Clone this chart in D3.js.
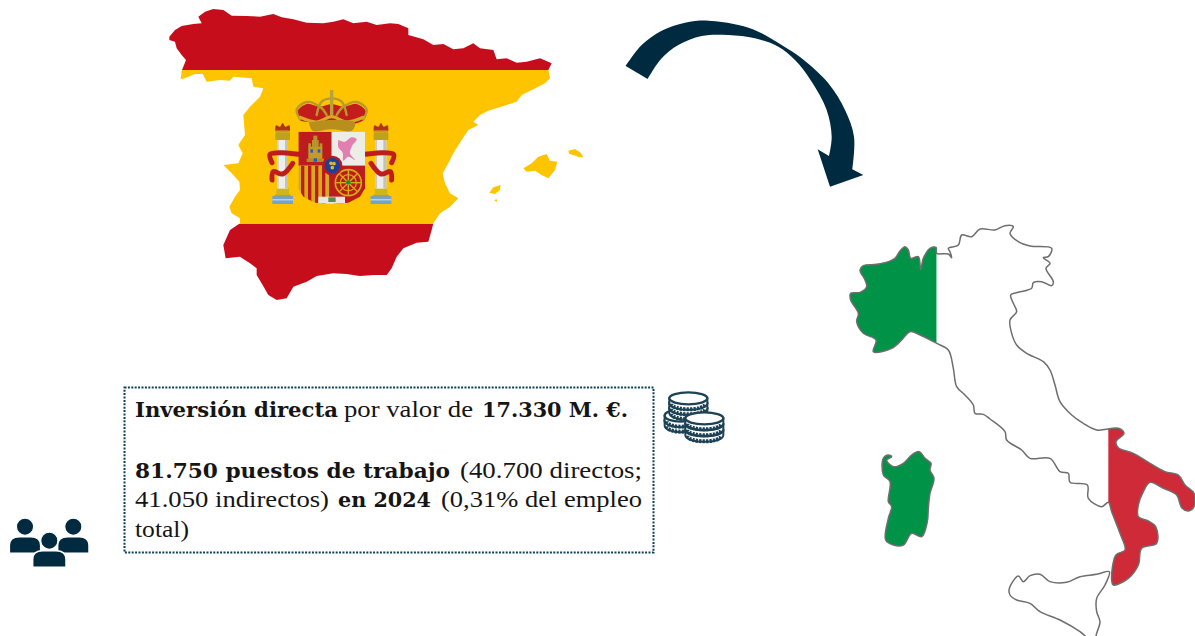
<!DOCTYPE html>
<html>
<head>
<meta charset="utf-8">
<script src="https://cdn.jsdelivr.net/npm/d3@7"></script>
<style>
html, body { margin: 0; padding: 0; background: #fff; overflow: hidden; }
svg { display: block; }
</style>
</head>
<body>
<svg id="chart" width="1195" height="636"></svg>
<script>
// outlines, in the units of each local frame
var spainOutline = [[28,110],[45,90],[65,78],[100,72],[125,70],[115,50],[135,35],[160,27],[190,30],[215,47],[260,48],[300,50],[340,42],[365,52],[400,58],[440,68],[490,70],[520,65],[550,58],[580,70],[620,65],[650,75],[690,70],[715,72],[745,85],[745,105],[790,118],[820,135],[850,132],[880,148],[910,145],[940,130],[960,145],[1000,150],[1010,178],[1040,175],[1070,188],[1100,185],[1140,175],[1175,190],[1165,210],[1170,235],[1155,250],[1120,268],[1085,285],[1070,305],[1030,318],[985,332],[960,345],[940,365],[955,375],[925,390],[905,420],[880,460],[865,490],[848,520],[855,550],[870,580],[895,595],[870,620],[840,640],[820,670],[815,690],[805,725],[770,728],[730,745],[710,770],[695,805],[680,825],[640,825],[600,828],[560,822],[520,820],[470,828],[440,845],[400,860],[380,895],[350,900],[325,885],[308,855],[290,825],[290,805],[270,790],[240,770],[197,775],[190,735],[210,690],[240,670],[240,655],[215,640],[208,620],[225,590],[240,570],[238,545],[215,520],[190,495],[235,490],[248,460],[235,435],[255,405],[250,345],[270,320],[300,290],[310,265],[280,260],[275,235],[220,230],[210,242],[180,240],[140,245],[128,222],[105,222],[75,235],[62,238],[65,212],[70,200],[78,180],[65,165],[50,145],[45,125],[28,120]];
var mallorca = [[1090,505],[1115,490],[1135,470],[1160,462],[1170,482],[1192,485],[1185,510],[1165,535],[1145,525],[1125,512],[1100,515]];
var menorca = [[1225,452],[1245,447],[1262,458],[1270,472],[1258,472],[1240,465],[1228,462]];
var ibiza = [[988,578],[1000,562],[1022,555],[1020,570],[1005,582]];
var formentera = [[1002,600],[1012,598],[1010,606]];

var italyOutline = [[32,235],[60,232],[80,215],[75,195],[60,165],[70,152],[110,148],[145,140],[165,130],[180,108],[195,95],[205,105],[212,130],[235,125],[242,165],[250,130],[270,100],[288,97],[290,115],[325,117],[335,128],[330,110],[325,100],[355,90],[365,60],[395,65],[420,42],[465,45],[495,32],[520,35],[510,55],[535,80],[570,93],[635,100],[625,125],[610,128],[630,145],[618,160],[640,200],[635,212],[605,200],[580,203],[575,220],[535,232],[512,240],[520,265],[530,290],[510,315],[515,355],[530,390],[560,415],[610,440],[630,465],[645,510],[660,560],[695,600],[730,625],[770,645],[835,640],[852,655],[828,680],[835,698],[880,715],[930,745],[975,770],[1015,780],[1035,810],[1062,835],[1062,875],[1045,888],[1025,878],[1010,840],[970,820],[930,802],[910,830],[895,870],[895,905],[925,918],[947,935],[950,985],[905,1000],[895,1050],[865,1090],[820,1110],[815,1095],[828,1020],[855,1005],[840,955],[815,890],[805,862],[785,875],[745,850],[742,810],[690,802],[685,775],[660,770],[630,730],[570,730],[545,705],[500,675],[495,650],[450,612],[430,598],[405,595],[400,570],[375,540],[350,515],[340,460],[325,405],[290,385],[240,360],[210,350],[185,375],[155,400],[100,410],[108,375],[70,355],[50,320],[55,295],[32,255]];
var sardinia = [[130,730],[145,720],[155,725],[140,735],[160,755],[190,745],[215,720],[238,710],[255,730],[273,745],[270,765],[282,790],[270,835],[265,880],[262,920],[245,965],[215,955],[190,990],[160,990],[137,975],[145,910],[155,875],[145,860],[150,800],[130,780]];
var sicily = [[508,1120],[535,1083],[550,1100],[570,1082],[600,1078],[630,1100],[680,1102],[720,1085],[770,1078],[808,1070],[795,1110],[770,1150],[770,1190],[780,1220],[768,1263],[768,1290],[720,1250],[660,1215],[600,1190],[570,1165],[530,1155],[510,1140]];

var arrowOuter = [[32,168],[80,105],[140,62],[210,38],[280,32],[370,45],[430,65],[500,105],[560,145],[640,220],[690,300],[717,380],[712,478]];
var arrowInner = [[642,438],[650,380],[635,300],[590,215],[540,150],[490,110],[420,85],[340,75],[260,78],[190,105],[140,145],[98,207]];
var arrowHead = [[712,478],[745,495],[645,530],[608,418],[642,438]];

var textLines = [
  [["Inversión directa", true, 135, 338], ["por valor de", false, 344, 473], ["17.330 M. €.", true, 482, 628]],
  [["81.750 puestos de trabajo", true, 135, 450], ["(40.700 directos;", false, 460, 642]],
  [["41.050 indirectos)", false, 135, 329], ["en 2024", true, 338, 431], ["(0,31% del empleo", false, 441, 642]],
  [["total)", false, 135, 189]]
];
var lineBaselines = [417, 478, 507, 537];

var coinStacks = [[85, 40], [85, 55], [85, 70], [62, 92], [62, 107], [133, 100], [133, 118], [133, 136]];
var navy = "#062B40";

var svg = d3.select("#chart");
var defs = svg.append("defs");
defs.append("filter").attr("id", "soft").append("feGaussianBlur").attr("stdDeviation", 0.45);

// Spain frame
var sx = d3.scaleLinear().domain([0, 1320]).range([160, 600]);
var sy = d3.scaleLinear().domain([0, 930]).range([0, 310]);
var spainLine = d3.line().x(function (d) { return sx(d[0]); }).y(function (d) { return sy(d[1]); });
var spainCurve = d3.line().x(function (d) { return sx(d[0]); }).y(function (d) { return sy(d[1]); }).curve(d3.curveCatmullRom);

// Italy frame
var ix = d3.scaleLinear().domain([0, 1065]).range([840, 1195]);
var iy = d3.scaleLinear().domain([0, 1263]).range([215, 636]);
var italyLine = d3.line().x(function (d) { return ix(d[0]); }).y(function (d) { return iy(d[1]); }).curve(d3.curveCatmullRomClosed.alpha(0.5));

// spain flag, clipped to the country
var spainPath = [spainOutline, mallorca, menorca, ibiza, formentera].map(function (d) { return spainLine(d) + "Z"; }).join("");
defs.append("clipPath").attr("id", "spainClip").append("path").attr("d", spainPath);
var spain = svg.append("g").attr("filter", "url(#soft)");
var spainFlag = spain.append("g").attr("clip-path", "url(#spainClip)");
spainFlag.append("rect").attr("x", 160).attr("y", 0).attr("width", 440).attr("height", sy(210)).attr("fill", "#C60B1E");
spainFlag.append("rect").attr("x", 160).attr("y", sy(210)).attr("width", 440).attr("height", sy(672) - sy(210)).attr("fill", "#FFC400");
spainFlag.append("rect").attr("x", 160).attr("y", sy(672)).attr("width", 440).attr("height", sy(930) - sy(672)).attr("fill", "#C60B1E");

// small helpers for the coat of arms
var arms = spain.append("g");
function box(x0, y0, x1, y1, fill) {
  return arms.append("rect").attr("x", sx(x0)).attr("y", sy(y0)).attr("width", sx(x1) - sx(x0)).attr("height", sy(y1) - sy(y0)).attr("fill", fill);
}
function curve(points, fill, stroke, w) {
  return arms.append("path").attr("d", spainCurve(points))
    .attr("fill", fill).attr("stroke", stroke || "none").attr("stroke-width", w || 0).attr("stroke-linecap", "round");
}
function dot(x, y, r, fill) {
  return arms.append("circle").attr("cx", sx(x)).attr("cy", sy(y)).attr("r", r).attr("fill", fill);
}

function pillar(cx, m) {
  box(cx - 31, 588, cx + 31, 612, "#6FA3CF");
  box(cx - 31, 598, cx + 31, 601, "#DCE8EE");
  box(cx - 24, 584, cx + 24, 589, "#B8A02A");
  box(cx - 19, 565, cx + 19, 585, "#CDB61E");
  box(cx - 16, 420, cx + 16, 566, "#EDEDEA");
  box(cx + 7, 420, cx + 16, 566, "#C2C2BE");
  box(cx - 16, 420, cx - 12, 566, "#C9C9C5");
  box(cx - 22, 398, cx + 22, 420, "#BFA21F");
  curve([[cx - 22, 394], [cx - 20, 376], [cx - 8, 380], [cx, 369], [cx + 8, 380], [cx + 20, 376], [cx + 22, 394]], "#B3301C");
  box(cx - 20, 391, cx + 20, 398, "#C79A1C");
  // scroll around the column
  curve([[cx + m * 47, 463], [cx, 458], [cx - m * 38, 463], [cx - m * 32, 488]], "none", "#BF1F1C", 5);
  curve([[cx + m * 30, 490], [cx, 522], [cx - m * 28, 515], [cx - m * 32, 540]], "none", "#BF1F1C", 5);
}
pillar(368, 1);
pillar(663, -1);

// crown
curve([[422, 362], [412, 335], [440, 312], [480, 320], [515, 312], [550, 320], [590, 312], [618, 335], [608, 362], [515, 375], [422, 362]], "#C21D1D");
curve([[420, 358], [410, 328], [440, 306], [482, 322], [500, 345]], "none", "#B89A2A", 2.4);
curve([[610, 358], [620, 328], [590, 306], [548, 322], [530, 345]], "none", "#B89A2A", 2.4);
curve([[470, 345], [485, 305], [515, 295], [545, 305], [560, 345]], "none", "#B89A2A", 2.4);
curve([[420, 352], [470, 366], [515, 350], [560, 366], [610, 352]], "none", "#D8A920", 3.2);
box(510, 270, 520, 345, "#B5A33A");
curve([[447, 368], [515, 360], [585, 368], [575, 392], [515, 388], [458, 392], [447, 368]], "#B88F1A");

// shield quarters
var shieldShape = [[415, 395], [615, 395], [615, 565], [600, 590], [565, 608], [515, 612], [465, 608], [430, 590], [415, 565], [415, 395]];
defs.append("clipPath").attr("id", "shieldClip").append("path").attr("d", spainLine(shieldShape));
var shield = arms;
arms = shield.append("g").attr("clip-path", "url(#shieldClip)");
box(415, 395, 515, 497, "#BC1E1A");
box(515, 395, 615, 497, "#EDEDE8");
box(415, 497, 515, 612, "#D7AC16");
d3.range(423, 515, 21).forEach(function (x) { box(x, 497, x + 10, 612, "#BC1E1A"); });
box(515, 497, 615, 612, "#BC1E1A");
box(475, 590, 555, 612, "#E8E8E0");
box(505, 592, 527, 606, "#5B8B52");
arms = shield;
// castle
box(445, 440, 487, 485, "#C29A27");
box(440, 476, 492, 486, "#B58B20");
box(456, 420, 476, 442, "#B9932B");
box(460, 407, 472, 424, "#B9932B");
box(445, 430, 453, 442, "#B9932B");
box(479, 430, 487, 442, "#B9932B");
box(461, 475, 471, 485, "#1E5FBE");
box(451, 448, 459, 458, "#1E5FBE");
box(473, 448, 481, 458, "#1E5FBE");
// lion
curve([[535, 420], [555, 425], [575, 412], [590, 418], [575, 440], [570, 460], [585, 480], [565, 470], [550, 482], [548, 458], [535, 442], [535, 420]], "#E27FB0");
// chains of Navarra
dot(565, 548, 13, "none").attr("stroke", "#D7AC16").attr("stroke-width", 1.6);
dot(565, 548, 8, "none").attr("stroke", "#D7AC16").attr("stroke-width", 1.2);
d3.range(0, 8).forEach(function (k) {
  var a = k * Math.PI / 4;
  arms.append("line").attr("x1", sx(565)).attr("y1", sy(548))
    .attr("x2", sx(565 + 38 * Math.cos(a))).attr("y2", sy(548 + 38 * Math.sin(a)))
    .attr("stroke", "#D7AC16").attr("stroke-width", 1.4);
});
dot(565, 547, 2.2, "#1E8A4E");
// centre oval
dot(517, 497, 10, "#B41F1C");
dot(517, 497, 7.6, "#1D3F9A");
dot(513, 490, 1.8, "#E0B828");
dot(522, 491, 1.8, "#E0B828");
dot(517, 503, 1.8, "#E0B828");

// italy flag, clipped to the country
var italyPath = [italyOutline, sardinia].map(function (d) { return italyLine(d); }).join("");
defs.append("clipPath").attr("id", "italyClip").append("path").attr("d", italyPath);
var italy = svg.append("g").attr("filter", "url(#soft)");
var italyFlag = italy.append("g").attr("clip-path", "url(#italyClip)");
italyFlag.append("rect").attr("x", 840).attr("y", 215).attr("width", ix(290) - 840).attr("height", 421).attr("fill", "#009246");
italyFlag.append("rect").attr("x", ix(290)).attr("y", 215).attr("width", ix(805) - ix(290)).attr("height", 421).attr("fill", "#ffffff");
italyFlag.append("rect").attr("x", ix(805)).attr("y", 215).attr("width", 1195 - ix(805)).attr("height", 421).attr("fill", "#CE2939");
italy.append("path").attr("d", italyPath).attr("fill", "none").attr("stroke", "#6E6E6E").attr("stroke-width", 1.5).attr("stroke-linejoin", "round");
italy.append("path").attr("d", italyLine(sicily)).attr("fill", "#fff").attr("stroke", "#6E6E6E").attr("stroke-width", 1.5).attr("stroke-linejoin", "round");

// curved arrow
var ax = d3.scaleLinear().domain([0, 780]).range([615, 875]);
var ay = d3.scaleLinear().domain([0, 570]).range([10, 200]);
var arrowCurve = d3.line().x(function (d) { return ax(d[0]); }).y(function (d) { return ay(d[1]); }).curve(d3.curveCatmullRom);
var arrowStraight = d3.line().x(function (d) { return ax(d[0]); }).y(function (d) { return ay(d[1]); });
var arrowPath = arrowCurve(arrowOuter) + arrowStraight(arrowHead).replace("M", "L") + arrowCurve(arrowInner).replace("M", "L") + "Z";
svg.append("path").attr("d", arrowPath).attr("fill", navy).attr("filter", "url(#soft)");

// dotted text box
svg.append("rect").attr("x", 124.5).attr("y", 387.5).attr("width", 529).attr("height", 165)
  .attr("fill", "none").attr("stroke", "#0F4059").attr("stroke-width", 2).attr("stroke-dasharray", "2 1.4");

var rows = svg.append("g").selectAll("g").data(textLines).join("g");
rows.selectAll("text")
  .data(function (d, i) { return d.map(function (r) { return { run: r, y: lineBaselines[i] }; }); })
  .join("text")
  .attr("x", function (d) { return d.run[2]; })
  .attr("y", function (d) { return d.y; })
  .attr("textLength", function (d) { return d.run[3] - d.run[2]; })
  .attr("lengthAdjust", "spacingAndGlyphs")
  .attr("font-family", function (d) { return d.run[1] ? "DejaVu Serif" : "Liberation Serif"; })
  .attr("font-weight", function (d) { return d.run[1] ? "bold" : "normal"; })
  .attr("font-size", function (d) { return d.run[1] ? 20 : 23; })
  .attr("fill", "#151515")
  .text(function (d) { return d.run[0]; });

// coins icon
var cx = d3.scaleLinear().domain([0, 210]).range([660, 730]);
var cy = d3.scaleLinear().domain([0, 180]).range([385, 445]);
var coins = svg.append("g").attr("filter", "url(#soft)");
coinStacks.slice().reverse().slice(3).concat(coinStacks.slice().reverse().slice(0, 3)).forEach(function (c) {
  var rx = c[0] == 62 ? 16 : 19;
  var g = coins.append("g").attr("transform", "translate(" + cx(c[0]) + "," + cy(c[1]) + ")");
  g.append("path")
    .attr("d", "M" + (-rx) + ",0 L" + (-rx) + ",5 A" + rx + ",6.5 0 0 0 " + rx + ",5 L" + rx + ",0 Z")
    .attr("fill", "#fff").attr("stroke", "#1E4256").attr("stroke-width", 2);
  g.append("path")
    .attr("d", "M" + (-rx + 2) + ",5.5 A" + (rx - 2) + ",5.5 0 0 0 " + (rx - 2) + ",5.5")
    .attr("fill", "none").attr("stroke", "#1E4256").attr("stroke-width", 4).attr("stroke-dasharray", "2.2 1.2");
  g.append("ellipse").attr("rx", rx).attr("ry", 6).attr("fill", "#fff").attr("stroke", "#1E4256").attr("stroke-width", 2.4);
});

// people icon
var px = d3.scaleLinear().domain([0, 300]).range([0, 100]);
var py = d3.scaleLinear().domain([0, 195]).range([510, 575]);
var people = svg.append("g").attr("filter", "url(#soft)");
function person(hx, hy, w, top, bottom) {
  people.append("path")
    .attr("d", "M" + px(hx - w) + "," + py(bottom) + "L" + px(hx - w) + "," + py(top + 26)
      + "Q" + px(hx - w) + "," + py(top) + " " + px(hx - w + 30) + "," + py(top)
      + "L" + px(hx + w - 30) + "," + py(top)
      + "Q" + px(hx + w) + "," + py(top) + " " + px(hx + w) + "," + py(top + 26)
      + "L" + px(hx + w) + "," + py(bottom) + "Z")
    .attr("fill", navy).attr("stroke", "#fff").attr("stroke-width", 1.5);
  people.append("circle").attr("cx", px(hx)).attr("cy", py(hy)).attr("r", 8.6).attr("fill", navy).attr("stroke", "#fff").attr("stroke-width", 1.2);
}
person(75, 50, 47, 80, 130);
person(220, 50, 47, 80, 130);
person(148, 92, 50, 122, 172);
</script>
</body>
</html>
